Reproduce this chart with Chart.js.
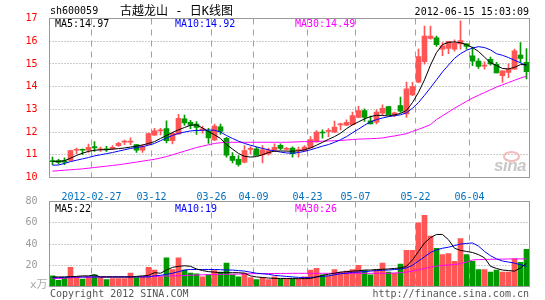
<!DOCTYPE html>
<html>
<head>
<meta charset="utf-8">
<script src="https://cdn.jsdelivr.net/npm/chart.js@4/dist/chart.umd.min.js"></script>
<style>
  html, body { margin: 0; padding: 0; background: #fff; }
  #wrap { position: relative; width: 545px; height: 300px; overflow: hidden;
          font-family: 'DejaVu Sans Mono', monospace; font-size: 10px; }
  canvas { position: absolute; left: 0; }
  #kCanvas { top: 0; }
  #vCanvas { top: 190px; }
  .t { position: absolute; line-height: 12px; white-space: pre; }
</style>
</head>
<body>
<div id="wrap">
  <canvas id="kCanvas" width="545" height="200" style="width:545px;height:200px"></canvas>
  <canvas id="vCanvas" width="545" height="110" style="width:545px;height:110px"></canvas>

  <div class="t" style="left:50px;top:5px;">sh600059</div>
  <div class="t" style="left:120px;top:4px;line-height:14px;font-size:12px;font-family:'DejaVu Sans Mono','Noto Sans CJK SC',sans-serif;">古越龙山 - 日K线图</div>
  <div class="t" style="right:16px;top:6px;">2012-06-15 15:03:09</div>

  <div class="t" id="pMa5"  style="left:55px;top:18px;color:#000;"></div>
  <div class="t" id="pMa10" style="left:175px;top:18px;color:#0000ff;"></div>
  <div class="t" id="pMa30" style="left:295px;top:18px;color:#ff00ff;"></div>

  <div class="t" id="vMa5"  style="left:55px;top:203px;color:#000;"></div>
  <div class="t" id="vMa10" style="left:175px;top:203px;color:#0000ff;"></div>
  <div class="t" id="vMa30" style="left:295px;top:203px;color:#ff00ff;"></div>

  <div class="t" style="left:30px;top:279px;color:#aaa;font-size:11px;font-family:'DejaVu Sans','Noto Sans CJK SC',sans-serif;">x万</div>
  <div class="t" style="left:50px;top:288px;color:#555;">Copyright 2012 SINA.COM</div>
  <div class="t" style="right:16px;top:288px;color:#555;">http://finance.sina.com.cn</div>

  <div style="position:absolute;left:503px;top:151px;width:13px;height:7px;border:2px solid #f5baba;border-radius:50%;"></div>
  <div class="t" style="left:494px;top:156px;line-height:17px;font:italic bold 17px 'Liberation Sans',sans-serif;color:#c8c8c8;letter-spacing:-0.5px;">sina</div>
</div>

<script>
// ---- data ----
const dates = [
  '02-16','02-17','02-20','02-21','02-22','02-23','02-24','02-27','02-28','02-29',
  '03-01','03-02','03-05','03-06','03-07','03-08','03-09','03-12','03-13','03-14',
  '03-15','03-16','03-19','03-20','03-21','03-22','03-23','03-26','03-27','03-28',
  '03-29','03-30','04-05','04-06','04-09','04-10','04-11','04-12','04-13','04-16',
  '04-18','04-19','04-20','04-23','04-24','04-25','04-26','04-27','05-02','05-03',
  '05-04','05-07','05-08','05-09','05-10','05-11','05-14','05-15','05-16','05-17',
  '05-18','05-22','05-23','05-24','05-25','05-28','05-29','05-30','05-31','06-01',
  '06-04','06-05','06-06','06-07','06-08','06-11','06-12','06-13','06-14','06-15'
];
const xTickIdx  = [7, 17, 27, 34, 43, 51, 61, 70];
const xTickText = ['2012-02-27','03-12','03-26','04-09','04-23','05-07','05-22','06-04'];

const opens = [
  10.75,10.75,10.73,10.75,11.20,11.22,11.20,11.36,11.22,11.24,
  11.26,11.40,11.56,11.56,11.45,11.20,11.45,11.86,12.05,12.15,
  11.62,11.92,12.58,12.43,12.35,12.10,12.03,11.65,12.23,11.72,
  10.93,10.80,10.67,11.24,11.26,10.99,11.04,11.21,11.42,11.24,
  11.30,11.18,11.19,11.30,11.57,11.98,12.03,12.00,12.32,12.30,
  12.33,12.65,12.95,12.50,12.44,12.83,13.12,12.77,13.17,12.80,
  13.64,14.20,15.10,16.12,16.15,15.65,15.68,15.65,15.88,15.88,
  15.36,15.12,14.90,15.20,14.98,14.48,14.63,14.77,15.39,15.07
];
const highs = [
  10.90,10.80,10.87,11.20,11.30,11.26,11.47,11.58,11.34,11.37,
  11.40,11.55,11.65,11.75,11.46,11.45,11.96,12.17,12.17,12.50,
  12.00,12.78,12.75,12.52,12.46,12.26,12.17,12.35,12.35,11.77,
  11.10,10.96,11.40,11.36,11.33,11.40,11.30,11.48,11.48,11.33,
  11.35,11.34,11.40,11.80,12.07,12.10,12.15,12.48,12.40,12.54,
  12.88,13.13,13.02,12.70,12.98,13.20,13.13,12.88,13.54,14.20,
  14.19,15.65,16.67,16.67,16.23,15.94,16.00,16.06,16.90,15.89,
  15.74,15.24,15.09,15.30,15.07,14.70,15.00,15.65,15.94,15.68
];
const lows = [
  10.57,10.60,10.56,10.73,11.04,11.00,11.10,11.15,11.15,11.15,
  11.23,11.37,11.45,11.45,11.10,11.10,11.45,11.85,11.87,11.52,
  11.48,11.90,12.29,12.15,11.90,11.95,11.50,11.62,11.90,10.90,
  10.64,10.50,10.64,11.04,10.97,10.64,10.98,11.15,11.22,11.20,
  10.90,10.90,11.16,11.30,11.56,11.73,11.80,11.98,12.10,12.28,
  12.30,12.63,12.47,12.36,12.36,12.77,12.75,12.68,12.87,12.65,
  13.60,14.18,14.99,16.09,15.77,15.36,15.45,15.56,15.65,15.65,
  14.92,14.80,14.77,14.95,14.60,14.19,14.40,14.77,15.07,14.34
];
const closes = [
  10.70,10.66,10.68,11.19,11.23,11.20,11.33,11.30,11.24,11.22,
  11.33,11.50,11.58,11.58,11.20,11.36,11.93,12.05,12.08,11.62,
  11.94,12.60,12.40,12.30,12.20,12.12,11.74,12.26,12.03,10.98,
  10.75,10.58,11.19,11.26,10.97,11.22,11.18,11.33,11.28,11.28,
  11.05,11.20,11.34,11.67,12.00,11.96,12.05,12.22,12.34,12.43,
  12.73,12.95,12.65,12.36,12.88,13.05,12.77,12.85,12.92,13.90,
  14.00,15.32,16.23,16.23,15.85,15.80,16.00,15.91,16.03,15.77,
  15.12,14.89,14.92,15.00,14.60,14.70,14.77,15.58,15.24,14.66
];
const ma5 = [
  10.71,10.71,10.74,10.85,10.97,11.07,11.15,11.20,11.22,11.22,
  11.25,11.27,11.30,11.34,11.38,11.43,11.50,11.58,11.72,11.85,
  11.98,12.10,12.20,12.30,12.32,12.18,12.02,11.88,11.72,11.45,
  11.25,11.06,10.93,10.90,10.92,11.00,11.10,11.16,11.17,11.16,
  11.16,11.17,11.22,11.30,11.42,11.55,11.68,11.80,11.95,12.15,
  12.32,12.45,12.58,12.68,12.74,12.73,12.71,12.76,12.82,12.95,
  13.30,13.75,14.30,14.95,15.50,15.85,15.95,15.97,15.93,15.85,
  15.72,15.55,15.30,15.05,14.93,14.80,14.78,14.85,14.97,14.97
];
const ma10 = [
  10.54,10.55,10.62,10.70,10.76,10.82,10.88,10.95,11.00,11.05,
  11.10,11.16,11.22,11.28,11.32,11.36,11.42,11.50,11.62,11.74,
  11.85,11.94,12.00,12.05,12.07,12.08,12.09,12.08,12.00,11.85,
  11.72,11.60,11.50,11.42,11.35,11.28,11.22,11.17,11.12,11.08,
  11.07,11.10,11.15,11.22,11.30,11.38,11.45,11.55,11.66,11.80,
  11.97,12.13,12.30,12.45,12.55,12.62,12.68,12.72,12.76,12.85,
  13.05,13.30,13.62,13.95,14.30,14.65,14.95,15.25,15.45,15.60,
  15.70,15.76,15.72,15.62,15.45,15.38,15.28,15.16,15.05,14.92
];
const ma30 = [
  10.28,10.30,10.32,10.34,10.36,10.38,10.41,10.44,10.47,10.50,
  10.53,10.56,10.60,10.64,10.68,10.72,10.76,10.80,10.86,10.92,
  11.00,11.08,11.16,11.24,11.32,11.38,11.44,11.50,11.53,11.55,
  11.55,11.55,11.55,11.55,11.55,11.55,11.55,11.55,11.55,11.55,
  11.56,11.57,11.58,11.58,11.59,11.60,11.61,11.62,11.63,11.65,
  11.67,11.69,11.70,11.71,11.72,11.74,11.79,11.83,11.88,11.93,
  12.03,12.12,12.22,12.33,12.55,12.72,12.88,13.05,13.20,13.35,
  13.50,13.62,13.74,13.86,13.98,14.08,14.18,14.28,14.38,14.46
];

const volumes = [
  10,5.8,8,18,9,7,9,11,8.5,6.4,
  7.5,7.5,7.5,12.7,8.5,9,18,15.5,9,27,
  16,27,15.5,12.7,12,9,11,15,13.6,22,
  11,9,12.7,8.5,6.4,8.5,6.4,9,7,7,
  7,7,9,15.5,17,11,10,16,13.6,14.5,
  16,20,15,11,15.5,22,13.6,12.7,21,34,
  34,60,67,47.5,36,30,31,23.6,45,30,
  23.6,16,16,13.6,15.5,13.6,13.6,26,22.7,35
];
const volMa5 = [
  9,9,9,9.2,9.5,10,10,11,9,9,
  9,9,9,9,9.5,10,10.5,13,12.5,15.5,
  18,19,19.5,19,16.5,15,14,13.5,13,13,
  13,13,12.5,10,9,8.5,8,7.6,7.6,7.5,
  7.5,7.4,7.4,7.6,9,10.5,11.5,12.5,13.5,14,
  14.5,14.8,15.5,15.5,16,16.2,16.5,17,17.5,19,
  25,33,41,46,49,49,44,36,34,33,
  32,30,27,19,17,15.5,15,14.5,17.5,22
];
const volMa10 = [
  8.2,8.3,8.6,9,9,9,9,9,9,9,
  9,9,9,9,9,9,9,10,10.5,11.5,
  12.5,14,15.5,16,16,16,16,16,15.8,15.5,
  15.5,15,14.5,13.5,12.5,12,11.5,10.5,10,9.5,
  9,8.6,8.5,8.5,9,9.5,10,11,12,12.5,
  13.3,13.6,14,14.5,15,15.3,15.5,16,16.5,17.5,
  20,24,28,32,34.5,36,37,38.5,40,40.5,
  41,38,33,29,26,24,23,22,20.5,19
];
const volMa30 = [
  7.6,7.6,7.8,8.3,8.6,8.8,8.8,8.9,8.9,9.0,
  9.0,9.1,9.1,9.2,9.2,9.3,9.4,9.5,9.7,9.9,
  10.0,10.2,10.4,10.6,10.8,11.0,11.2,11.3,11.4,11.5,
  11.6,11.7,11.8,12.0,12.1,12.1,12.2,12.2,12.3,12.3,
  12.4,12.4,12.4,12.4,12.4,12.4,12.4,12.4,12.4,12.4,
  12.4,12.4,12.4,12.4,12.4,12.4,12.4,12.6,13.0,13.6,
  14.5,15.8,17.0,18.3,19.2,19.8,20.3,20.7,21.5,23.0,
  25.0,25.3,25.5,25.6,25.7,25.8,25.9,26.0,26.0,26.0
];

const priceMaText = ['MA5:14.97', 'MA10:14.92', 'MA30:14.49'];
const volMaText   = ['MA5:22', 'MA10:19', 'MA30:26'];

// ---- colours / helpers ----
const RED   = '#ff5555';
const GREEN = '#009900';
const FONT  = { family: 'DejaVu Sans Mono', size: 10 };

const candleColors = closes.map((c, i) => c >= opens[i] ? RED : GREEN);

document.getElementById('pMa5').textContent  = priceMaText[0];
document.getElementById('pMa10').textContent = priceMaText[1];
document.getElementById('pMa30').textContent = priceMaText[2];
document.getElementById('vMa5').textContent  = volMaText[0];
document.getElementById('vMa10').textContent = volMaText[1];
document.getElementById('vMa30').textContent = volMaText[2];

// dashed date lines + dotted level lines, placed from the chart's own scales
const gridPlugin = {
  id: 'kgrid',
  beforeDatasetsDraw(chart) {
    const { ctx, chartArea: a, scales: { x, y } } = chart;
    const half = (x.getPixelForValue(1) - x.getPixelForValue(0)) / 2;
    ctx.save();
    ctx.lineWidth = 1;

    ctx.strokeStyle = '#a0a0a0';
    ctx.setLineDash([6, 5]);
    xTickIdx.forEach(i => {
      const px = Math.floor(x.getPixelForValue(i) - half) + 0.5;
      ctx.beginPath();
      ctx.moveTo(px, a.top);
      ctx.lineTo(px, a.bottom);
      ctx.stroke();
    });

    ctx.strokeStyle = '#999';
    ctx.setLineDash([1, 2]);
    y.ticks.forEach(t => {
      if (t.value <= y.min || t.value >= y.max) return;
      const py = Math.floor(y.getPixelForValue(t.value)) + 0.5;
      ctx.beginPath();
      ctx.moveTo(a.left, py);
      ctx.lineTo(a.right, py);
      ctx.stroke();
    });
    ctx.restore();
  }
};

// grey frame round the plot area
const framePlugin = {
  id: 'frame',
  afterDraw(chart) {
    const { ctx, chartArea: a } = chart;
    ctx.save();
    ctx.strokeStyle = '#999';
    ctx.lineWidth = 1;
    ctx.strokeRect(a.left, a.top, a.right - a.left, a.bottom - a.top);
    ctx.restore();
  }
};

function maLine(data, color) {
  return {
    type: 'line', data, borderColor: color, borderWidth: 1,
    pointRadius: 0, tension: 0, fill: false, order: 0
  };
}

function xScale(showLabels, height) {
  return {
    type: 'category',
    offset: true,
    afterFit: s => { s.height = height; },
    grid: { display: false },
    border: { display: false },
    ticks: {
      display: showLabels,
      autoSkip: false,
      maxRotation: 0,
      padding: 6,
      labelOffset: -3,
      color: '#0070c0',
      font: FONT,
      callback: (v, i) => {
        const k = xTickIdx.indexOf(i);
        return k < 0 ? '' : xTickText[k];
      }
    }
  };
}

function baseOptions() {
  return {
    responsive: false,
    animation: false,
    events: [],
    plugins: { legend: { display: false }, tooltip: { enabled: false } }
  };
}

// K-line panel
new Chart(document.getElementById('kCanvas'), {
  type: 'bar',
  data: {
    labels: dates,
    datasets: [
      maLine(ma5, '#000000'),
      maLine(ma10, '#0000ff'),
      maLine(ma30, '#ff00ff'),
      {
        data: opens.map((o, i) => [o, closes[i]]),
        backgroundColor: candleColors,
        barThickness: 5, minBarLength: 1, grouped: false, order: 1
      },
      {
        data: lows.map((l, i) => [l, highs[i]]),
        backgroundColor: candleColors,
        barThickness: 1, grouped: false, order: 2
      }
    ]
  },
  options: {
    ...baseOptions(),
    layout: { padding: { top: 18.5, right: 15.5, left: 0, bottom: 0 } },
    scales: {
      x: xScale(true, 22.5),
      y: {
        min: 10, max: 17,
        afterFit: s => { s.width = 49.5; },
        grid: { display: false },
        border: { display: false },
        ticks: { stepSize: 1, padding: 4, color: '#ff0000', font: FONT }
      }
    }
  },
  plugins: [gridPlugin, framePlugin]
});

// volume panel
new Chart(document.getElementById('vCanvas'), {
  type: 'bar',
  data: {
    labels: dates,
    datasets: [
      maLine(volMa5, '#000000'),
      maLine(volMa10, '#0000ff'),
      maLine(volMa30, '#ff00ff'),
      {
        data: volumes,
        backgroundColor: candleColors,
        barThickness: 5, grouped: false, order: 1
      }
    ]
  },
  options: {
    ...baseOptions(),
    layout: { padding: { top: 11.5, right: 15.5, left: 0, bottom: 0 } },
    scales: {
      x: xScale(false, 13.5),
      y: {
        min: 0, max: 80,
        afterFit: s => { s.width = 49.5; },
        grid: { display: false },
        border: { display: false },
        ticks: {
          stepSize: 20, padding: 4, color: '#999', font: FONT,
          callback: v => v === 0 ? '' : v
        }
      }
    }
  },
  plugins: [gridPlugin, framePlugin]
});
</script>
</body>
</html>
